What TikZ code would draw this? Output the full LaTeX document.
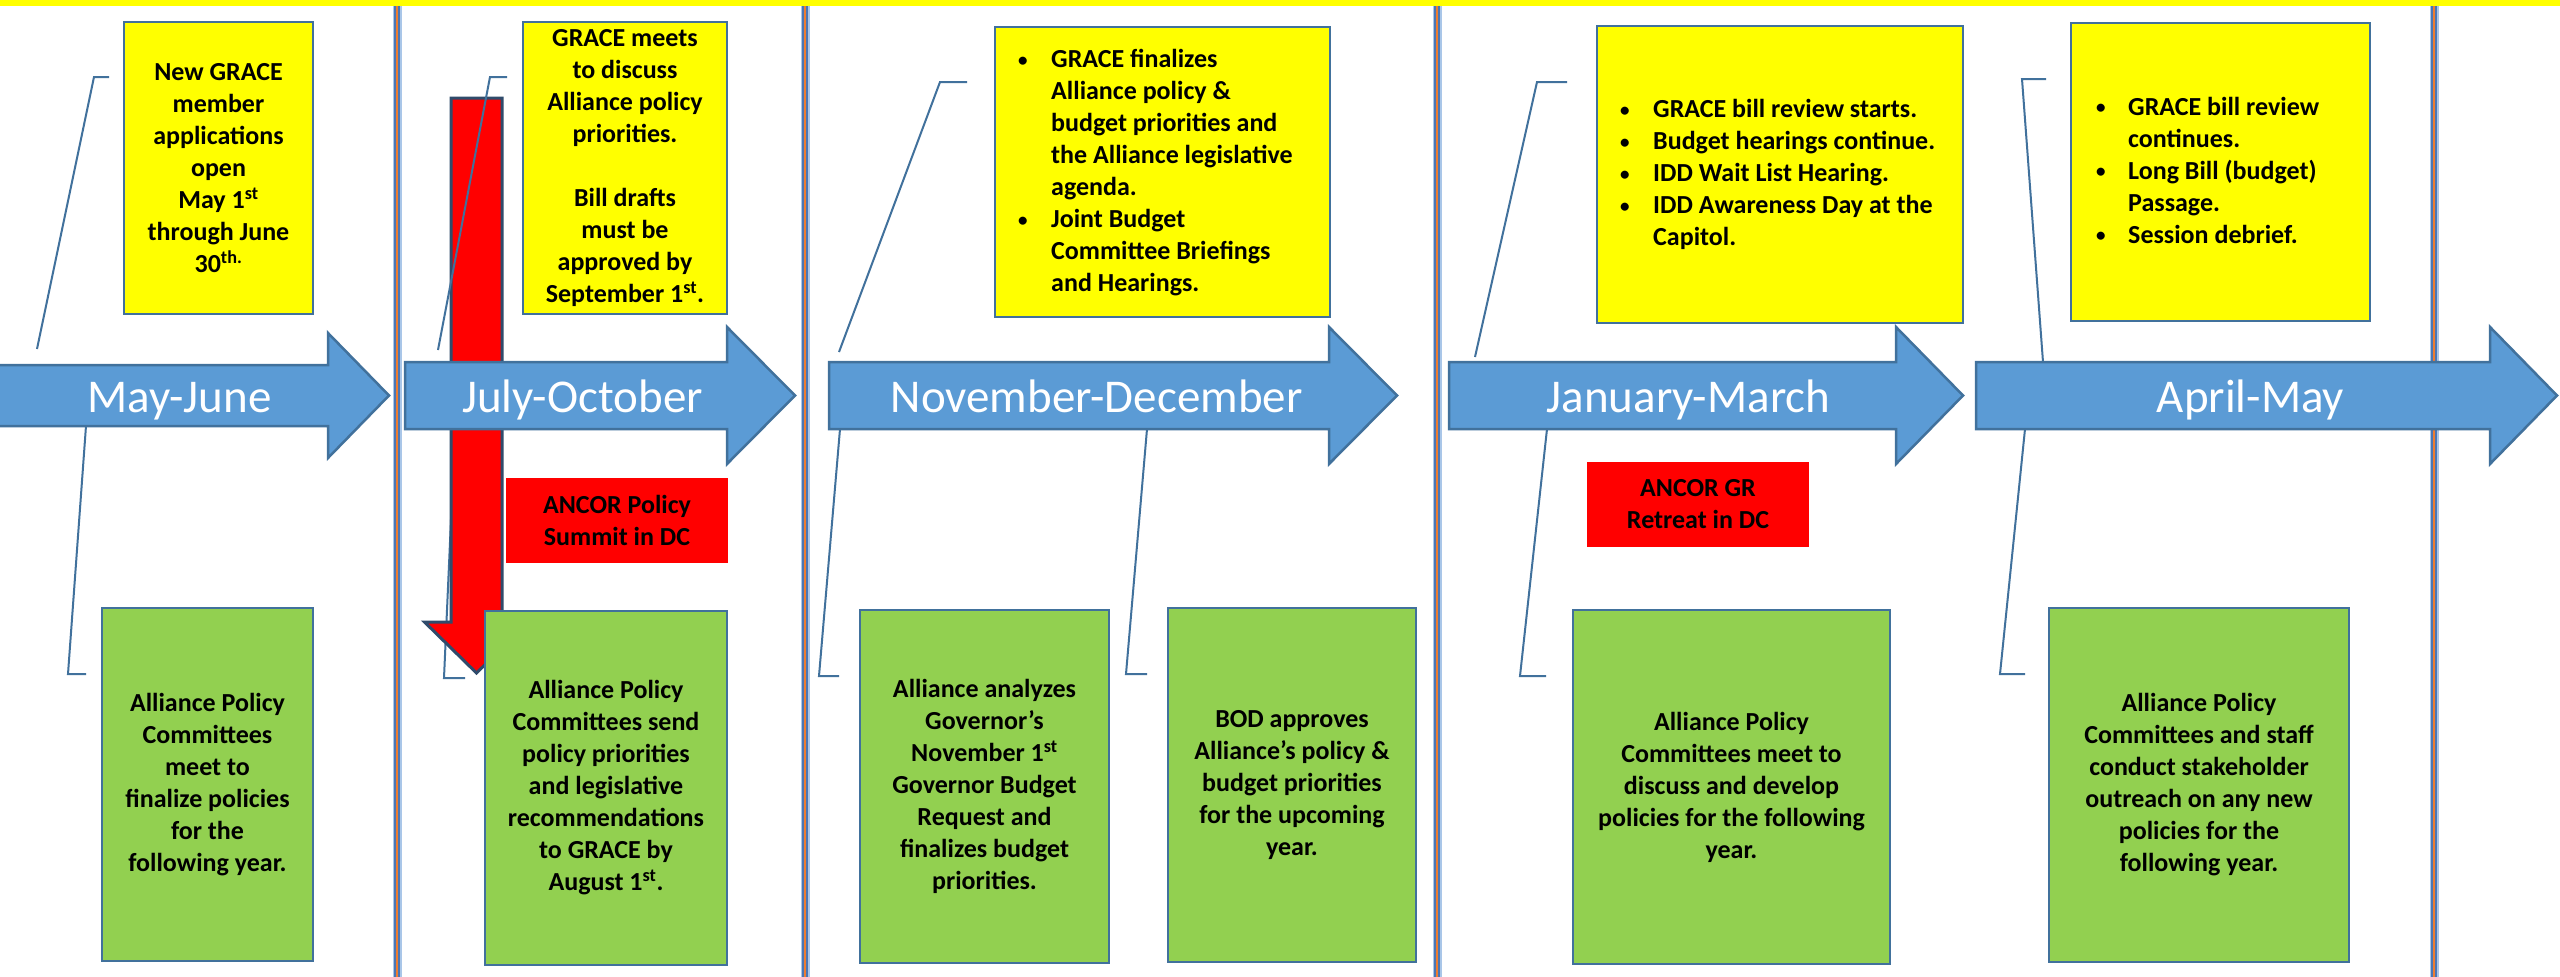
\documentclass[tikz,border=0pt]{standalone}
\usepackage{fontspec}
\setmainfont{Carlito}
\definecolor{arrowblue}{HTML}{5B9BD5}
\definecolor{edgeblue}{HTML}{41719C}
\definecolor{boxyellow}{HTML}{FFFF00}
\definecolor{boxgreen}{HTML}{92D050}
\definecolor{boxred}{HTML}{FF0000}
\definecolor{redarrowedge}{HTML}{2F4B6B}
\definecolor{divorange}{HTML}{ED7D31}
\definecolor{divblue}{HTML}{4A76B4}
\definecolor{divlight}{HTML}{A9C6E8}
\newcommand\mybul{\raisebox{1.5pt}{\fontsize{19}{32}\selectfont\textbullet}}
\begin{document}
\begin{tikzpicture}[x=1pt,y=-1pt,
  btext/.style={font=\bfseries\fontsize{26}{32}\selectfont, inner sep=0pt},
  boxtext/.style={btext, align=center},
  ybox/.style={draw=edgeblue, line width=2.5pt, fill=boxyellow, boxtext},
  gbox/.style={draw=edgeblue, line width=2.5pt, fill=boxgreen, boxtext},
  rbox/.style={fill=boxred, boxtext},
  bluearrow/.style={fill=arrowblue, draw=edgeblue, line width=2.5pt, line join=miter},
  redarrow/.style={fill=boxred, draw=redarrowedge, line width=3pt, line join=miter},
  arrowlabel/.style={font=\fontsize{47}{56}\selectfont, text=white, inner sep=0pt, anchor=base},
  callout/.style={draw=edgeblue, line width=2pt}]

\useasboundingbox (0,0) rectangle (2560,977);
\fill[white] (0,0) rectangle (2560,977);

% dividers
\foreach \cx in {397,805,1437,2434}{
  \fill[divlight] (\cx-4.5,6) rectangle (\cx+4.5,977);
  \fill[divblue] (\cx-3,6) rectangle (\cx+3,977);
  \fill[divorange] (\cx-1,6) rectangle (\cx+1,977);
}
% top bar
\fill[boxyellow] (0,0) rectangle (2560,6);

% callout coordinates
\coordinate (c1a) at (37,349);  \coordinate (c1b) at (94,77);   \coordinate (c1c) at (109,77);
\coordinate (d1a) at (86,426);  \coordinate (d1b) at (68,674);  \coordinate (d1c) at (86,674);
\coordinate (c2a) at (438,350); \coordinate (c2b) at (490,77);  \coordinate (c2c) at (507,77);
\coordinate (d2a) at (455,429); \coordinate (d2b) at (444,678); \coordinate (d2c) at (465,678);
\coordinate (c3a) at (839,352); \coordinate (c3b) at (940,82);  \coordinate (c3c) at (967,82);
\coordinate (d3a) at (840,429); \coordinate (d3b) at (819,676); \coordinate (d3c) at (839,676);
\coordinate (e3a) at (1147,429);\coordinate (e3b) at (1126,674);\coordinate (e3c) at (1147,674);
\coordinate (c4a) at (1475,357);\coordinate (c4b) at (1537,82); \coordinate (c4c) at (1567,82);
\coordinate (d4a) at (1547,429);\coordinate (d4b) at (1520,676);\coordinate (d4c) at (1546,676);
\coordinate (c5a) at (2043,362);\coordinate (c5b) at (2022,79); \coordinate (c5c) at (2046,79);
\coordinate (d5a) at (2025,429);\coordinate (d5b) at (2000,674);\coordinate (d5c) at (2025,674);

% lower callout of July-October (behind the red arrow)
\draw[callout] (d2a) -- (d2b) -- (d2c);

% red down arrow
\draw[redarrow] (451,98) -- (502,98) -- (502,622) -- (528.5,622) -- (476.5,673) -- (424.5,622) -- (451,622) -- cycle;

% blue timeline arrows
\draw[bluearrow] (-10,365) -- (328,365) -- (328,333) -- (389,395.5) -- (328,458) -- (328,426) -- (-10,426) -- cycle;
\draw[bluearrow] (405,362) -- (727,362) -- (727,327) -- (795,395.5) -- (727,464) -- (727,429) -- (405,429) -- cycle;
\draw[bluearrow] (829,362) -- (1329,362) -- (1329,327) -- (1397,395.5) -- (1329,464) -- (1329,429) -- (829,429) -- cycle;
\draw[bluearrow] (1449,362) -- (1896,362) -- (1896,327) -- (1963,395.5) -- (1896,464) -- (1896,429) -- (1449,429) -- cycle;
\draw[bluearrow] (1976,362) -- (2490,362) -- (2490,327) -- (2557,395.5) -- (2490,464) -- (2490,429) -- (1976,429) -- cycle;

\node[arrowlabel] (l1) at (179.5,412) {May-June};
\node[arrowlabel] (l2) at (582.5,412) {July-October};
\node[arrowlabel] (l3) at (1096.5,412) {November-December};
\node[arrowlabel] (l4) at (1688.5,412) {January-March};
\node[arrowlabel] (l5) at (2250.5,412) {April-May};

% callouts
\draw[callout] (c1a) -- (c1b) -- (c1c);
\draw[callout] (d1a) -- (d1b) -- (d1c);
\draw[callout] (c2a) -- (c2b) -- (c2c);
\draw[callout] (c3a) -- (c3b) -- (c3c);
\draw[callout] (d3a) -- (d3b) -- (d3c);
\draw[callout] (e3a) -- (e3b) -- (e3c);
\draw[callout] (c4a) -- (c4b) -- (c4c);
\draw[callout] (d4a) -- (d4b) -- (d4c);
\draw[callout] (c5a) -- (c5b) -- (c5c);
\draw[callout] (d5a) -- (d5b) -- (d5c);

% yellow boxes
\node[ybox, minimum width=189pt, minimum height=292pt] (y1) at (218.5,168)
  {New GRACE\\member\\applications\\open\\May 1\textsuperscript{st}\\through June\\30\textsuperscript{th.}};
\node[ybox, minimum width=204pt, minimum height=292pt] (y2) at (625,168)
  {GRACE meets\\to discuss\\Alliance policy\\priorities.\\[32pt]Bill drafts\\must be\\approved by\\September 1\textsuperscript{st}.};
\node[ybox, minimum width=335pt, minimum height=290pt] (y3) at (1162.5,172) {};
\node[btext, anchor=west] (y3t) at (1018,173.5) {\begin{tabular}{@{}p{33pt}@{}l@{}}
  \mybul & GRACE finalizes\\
   & Alliance policy \&\\
   & budget priorities and\\
   & the Alliance legislative\\
   & agenda.\\
  \mybul & Joint Budget\\
   & Committee Briefings\\
   & and Hearings.
  \end{tabular}};
\node[ybox, minimum width=366pt, minimum height=297pt] (y4) at (1780,174.5) {};
\node[btext, anchor=west] (y4t) at (1620,175.5) {\begin{tabular}{@{}p{33pt}@{}l@{}}
  \mybul & GRACE bill review starts.\\
  \mybul & Budget hearings continue.\\
  \mybul & IDD Wait List Hearing.\\
  \mybul & IDD Awareness Day at the\\
   & Capitol.
  \end{tabular}};
\node[ybox, minimum width=299pt, minimum height=298pt] (y5) at (2220.5,172) {};
\node[btext, anchor=west] (y5t) at (2096,173) {\begin{tabular}{@{}p{32pt}@{}l@{}}
  \mybul & GRACE bill review\\
   & continues.\\
  \mybul & Long Bill (budget)\\
   & Passage.\\
  \mybul & Session debrief.
  \end{tabular}};

% red boxes
\node[rbox, minimum width=222pt, minimum height=85pt] (r1) at (617,520.5) {ANCOR Policy\\Summit in DC};
\node[rbox, minimum width=222pt, minimum height=85pt] (r2) at (1698,504.5) {ANCOR GR\\Retreat in DC};

% green boxes
\node[gbox, minimum width=211pt, minimum height=353pt] (g1) at (207.5,784.5)
  {Alliance Policy\\Committees\\meet to\\finalize policies\\for the\\following year.};
\node[gbox, minimum width=242pt, minimum height=354pt] (g2) at (606,788)
  {Alliance Policy\\Committees send\\policy priorities\\and legislative\\recommendations\\to GRACE by\\August 1\textsuperscript{st}.};
\node[gbox, minimum width=249pt, minimum height=353pt] (g3) at (984.5,786.5)
  {Alliance analyzes\\Governor’s\\November 1\textsuperscript{st}\\Governor Budget\\Request and\\finalizes budget\\priorities.};
\node[gbox, minimum width=248pt, minimum height=354pt] (g3b) at (1292,785)
  {BOD approves\\Alliance’s policy \&\\budget priorities\\for the upcoming\\year.};
\node[gbox, minimum width=317pt, minimum height=354pt] (g4) at (1731.5,787)
  {Alliance Policy\\Committees meet to\\discuss and develop\\policies for the following\\year.};
\node[gbox, minimum width=300pt, minimum height=354pt] (g5) at (2199,785)
  {Alliance Policy\\Committees and staff\\conduct stakeholder\\outreach on any new\\policies for the\\following year.};
\end{tikzpicture}
\end{document}
